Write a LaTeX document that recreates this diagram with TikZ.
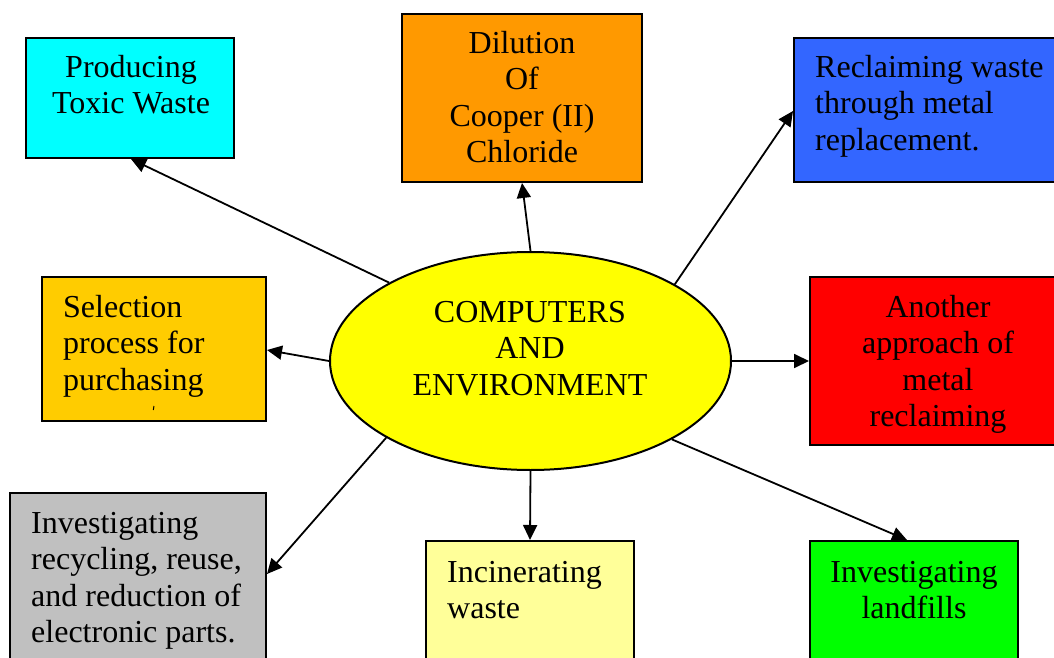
\documentclass[tikz,border=0pt]{standalone}
\usepackage{fontspec}
\setmainfont{Liberation Serif}
\usetikzlibrary{arrows.meta,calc,shapes.geometric}
\definecolor{cCyan}{HTML}{00FFFF}
\definecolor{cOrange}{HTML}{FF9900}
\definecolor{cBlue}{HTML}{3366FF}
\definecolor{cGold}{HTML}{FFCC00}
\definecolor{cRed}{HTML}{FF0000}
\definecolor{cGray}{HTML}{C0C0C0}
\definecolor{cLight}{HTML}{FFFF99}
\definecolor{cGreen}{HTML}{00FF00}
\definecolor{cYellow}{HTML}{FFFF00}
\begin{document}
\begin{tikzpicture}[x=1pt,y=-1pt,
  box/.style={draw=black, line width=2pt, rectangle, inner sep=0pt},
  txt/.style={inner sep=0pt, font=\fontsize{32}{36.5}\selectfont},
  conn/.style={line width=1.8pt, -{Triangle[length=15pt,width=14pt]}}]
\useasboundingbox (0,0) rectangle (1054,658);
\clip (0,0) rectangle (1054,658);
\fill[white] (0,0) rectangle (1054,658);

% boxes
\node[box, fill=cCyan,   minimum width=208pt, minimum height=120pt] (b1) at (130,98) {};
\node[box, fill=cOrange, minimum width=240pt, minimum height=168pt] (b2) at (522,98) {};
\node[box, fill=cBlue,   minimum width=270pt, minimum height=144pt] (b3) at (929,110) {};
\node[box, fill=cGold,   minimum width=224pt, minimum height=144pt] (b4) at (154,349) {};
\node[box, fill=cRed,    minimum width=254pt, minimum height=168pt] (b5) at (937,361) {};
\node[box, fill=cGray,   minimum width=256pt, minimum height=187pt] (b6) at (138,586.5) {};
\node[box, fill=cLight,  minimum width=208pt, minimum height=139pt] (b7) at (530,610.5) {};
\node[box, fill=cGreen,  minimum width=208pt, minimum height=139pt] (b8) at (914,610.5) {};

% centre ellipse
\node[ellipse, draw=black, line width=2pt, fill=cYellow, minimum width=401pt,
      minimum height=218pt, inner sep=0pt] (ell) at (530.5,361) {};

% texts
\node[txt, anchor=north, align=center] (t1) at (131,51.45) {\strut Producing\\Toxic Waste};
\node[txt, anchor=north, align=center] (t2) at (522,27.45) {\strut Dilution\\Of\\Cooper (II)\\Chloride};
\node[txt, anchor=north west, align=left] (t3) at (815,51.45) {\strut Reclaiming waste\\through metal\\replacement.};
\node[txt, anchor=north west, align=left] (t4) at (63,291.45) {\strut Selection\\process for\\purchasing};
\node[txt, anchor=north, align=center] (t5) at (938,291.45) {\strut Another\\approach of\\metal\\reclaiming};
\node[txt, anchor=north west, align=left] (t6) at (31,507.45) {\strut Investigating\\recycling, reuse,\\and reduction of\\electronic parts.};
\node[txt, anchor=north west, align=left] (t7) at (447,556.45) {\strut Incinerating\\waste};
\node[txt, anchor=north, align=center] (t8) at (914,556.45) {\strut Investigating\\landfills};
\node[txt, anchor=north, align=center] (t0) at (530,296.45) {\strut COMPUTERS\\AND\\ENVIRONMENT};

% tiny mark in the selection box
\draw[line width=1pt] (154,406) -- (153.3,410);

% connectors
\draw[conn] (ell.151.8) -- ($(b1.south)+(1,0)$);
\draw[conn] (ell.90.5) -- (b2.south);
\draw[conn] (ell.28.8) -- ($(b3.west)+(0,1)$);
\draw[conn] (ell.180) -- ($(b4.east)+(0,1)$);
\draw[conn] (ell.0) -- (b5.west);
\draw[conn] (ell.208.3) -- ($(b6.north east)+(0,82)$);
\draw[conn] (ell.270) -- (b7.north);
\draw[conn] (ell.331.3) -- ($(b8.north)+(-7,0)$);
\end{tikzpicture}
\end{document}
